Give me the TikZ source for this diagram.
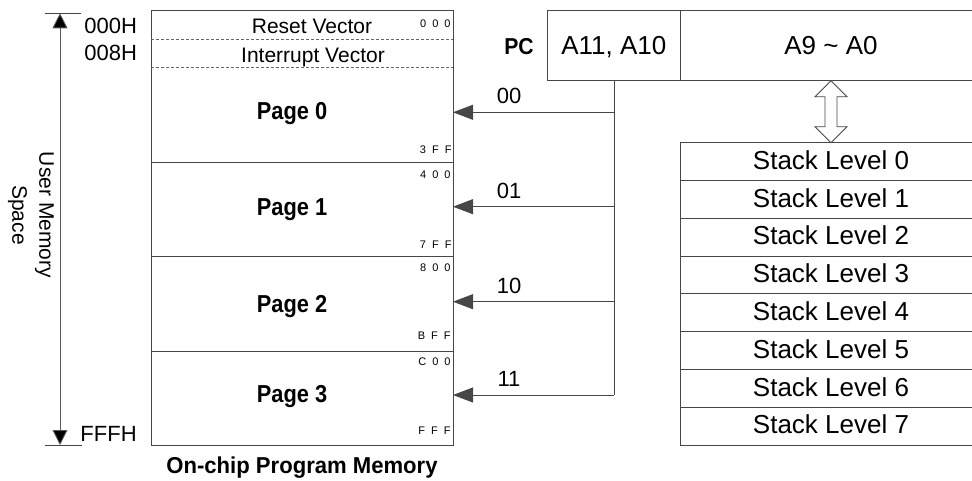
\documentclass[tikz,border=0pt]{standalone}
\usepackage{fontspec}
\setmainfont{Liberation Sans}
\usetikzlibrary{arrows.meta}
\newcommand\hexl[3]{#1\hspace{6pt}#2\hspace{6pt}#3}
\newcommand\narrowtxt[1]{\scalebox{0.89}[1]{#1}}
\begin{document}
\begin{tikzpicture}[x=1pt,y=-1pt,line width=0.9pt,
  lc/.style={draw=black!72},
  membox/.style={lc,minimum width=302pt,inner sep=0pt,outer sep=0pt},
  stackbox/.style={lc,minimum width=302pt,minimum height=37.8pt,inner sep=0pt,outer sep=0pt,
     text height=15.4pt,text depth=0pt,font=\fontsize{26}{28}\selectfont},
  pcbox/.style={lc,minimum height=70.7pt,inner sep=0pt,outer sep=0pt,
     text height=19.3pt,text depth=0pt,font=\fontsize{26}{28}\selectfont},
  reg/.style={inner sep=0pt,anchor=base,font=\fontsize{21}{24}\selectfont},
  addr/.style={inner sep=0pt,anchor=base west,font=\fontsize{22}{24}\selectfont},
  pagelbl/.style={inner sep=0pt,anchor=base,font=\bfseries\fontsize{24.5}{26}\selectfont},
  bits/.style={inner sep=0pt,anchor=base,font=\fontsize{22}{24}\selectfont},
  hex/.style={inner sep=0pt,anchor=base east,font=\fontsize{11}{12}\selectfont},
  tip/.style={-{Triangle[length=20pt,width=15pt]}},
  dashline/.style={draw=black!60,line width=0.7pt,dash pattern=on 3pt off 2pt}
]
\useasboundingbox (0,0) rectangle (972,481);
\clip (0,0) rectangle (972,481);

% memory pages
\node[membox,minimum height=152.7pt] (p0) at (302,86.35) {};
\node[membox,minimum height=94pt] (p1) at (302,209.7) {};
\node[membox,minimum height=95pt] (p2) at (302,304.2) {};
\node[membox,minimum height=93.3pt] (p3) at (302,398.35) {};
\draw[dashline] (151,39.5) -- (453,39.5);
\draw[dashline] (151,67.7) -- (453,67.7);

\node[reg] (rv) at (312,33.3) {Reset Vector};
\node[reg] (iv) at (313,62.7) {Interrupt Vector};
\node[pagelbl] (l0) at (292,119.3) {\narrowtxt{Page 0}};
\node[pagelbl] (l1) at (292,216) {\narrowtxt{Page 1}};
\node[pagelbl] (l2) at (292,312.3) {\narrowtxt{Page 2}};
\node[pagelbl] (l3) at (292,402.7) {\narrowtxt{Page 3}};

\node[hex] (h0) at (451,27.3) {\hexl 000};
\node[hex] (h1) at (452,153.3) {\hexl 3FF};
\node[hex] (h2) at (451,179) {\hexl 400};
\node[hex] (h3) at (452,248.3) {\hexl 7FF};
\node[hex] (h4) at (451,271.7) {\hexl 800};
\node[hex] (h5) at (451,339) {\hexl BFF};
\node[hex] (h6) at (451,365) {\hexl C00};
\node[hex] (h7) at (451,434) {\hexl FFF};

\node[inner sep=0pt,anchor=base,font=\bfseries\fontsize{23}{24}\selectfont] (title) at (302,473.3) {\scalebox{0.96}[1]{On-chip Program Memory}};

% left address scale
\node[addr] (a000) at (84,33.3) {000H};
\node[addr] (a008) at (84,61) {008H};
\node[addr] (afff) at (80,441.7) {FFFH};
\coordinate (top) at (60,13.3);
\coordinate (bot) at (60,445);
\draw[draw=black!72] (45,13.3) -- (81,13.3);
\draw[draw=black!72] (45,445) -- (82,445);
\draw[draw=black!65,{Triangle[length=15pt,width=15pt,fill=black]}-{Triangle[length=15pt,width=15pt,fill=black]}] (top) -- (bot);
\node[rotate=-90,align=center,inner sep=0pt,font=\fontsize{21}{27}\selectfont] (ums) at (31,215) {User Memory\\Space};

% PC register
\node[inner sep=0pt,anchor=base,font=\bfseries\fontsize{23}{24}\selectfont] (pc) at (519,55) {\scalebox{0.92}[1]{PC}};
\node[pcbox,minimum width=132.3pt] (a11) at (613.85,45.35) {A11, A10};
\node[pcbox,minimum width=302pt] (a9) at (831,45.35) {A9 \textasciitilde{} A0};

% page select lines
\coordinate (j0) at (614,112.3);
\coordinate (j1) at (614,206.7);
\coordinate (j2) at (614,301.7);
\coordinate (j3) at (614,395);
\coordinate (m0) at (453,112.3);
\coordinate (m1) at (453,206.7);
\coordinate (m2) at (453,301.7);
\coordinate (m3) at (453,395);
\draw[draw=black!72] (a11.south -| j0) -- (j3);
\foreach \i in {0,1,2,3}{
  \draw[draw=black!72,tip] (j\i) -- (m\i);
}
\node[bits] (b0) at (509,104) {00};
\node[bits] (b1) at (509,198.4) {01};
\node[bits] (b2) at (509,293.4) {10};
\node[bits] (b3) at (509,386.7) {11};

% stack
\foreach \i in {0,...,7}{
  \node[stackbox] (s\i) at (831,161.6+37.8*\i) {Stack Level \i};
}

% hollow double arrow between PC and stack
\draw[draw=black!72,line width=0.8pt,fill=white]
  (a9.south) -- ++(16,16) -- ++(-10,0) -- ++(0,30) -- ++(10,0) -- (s0.north)
  -- ++(-16,-16) -- ++(10,0) -- ++(0,-30) -- ++(-10,0) -- cycle;
\end{tikzpicture}
\end{document}
